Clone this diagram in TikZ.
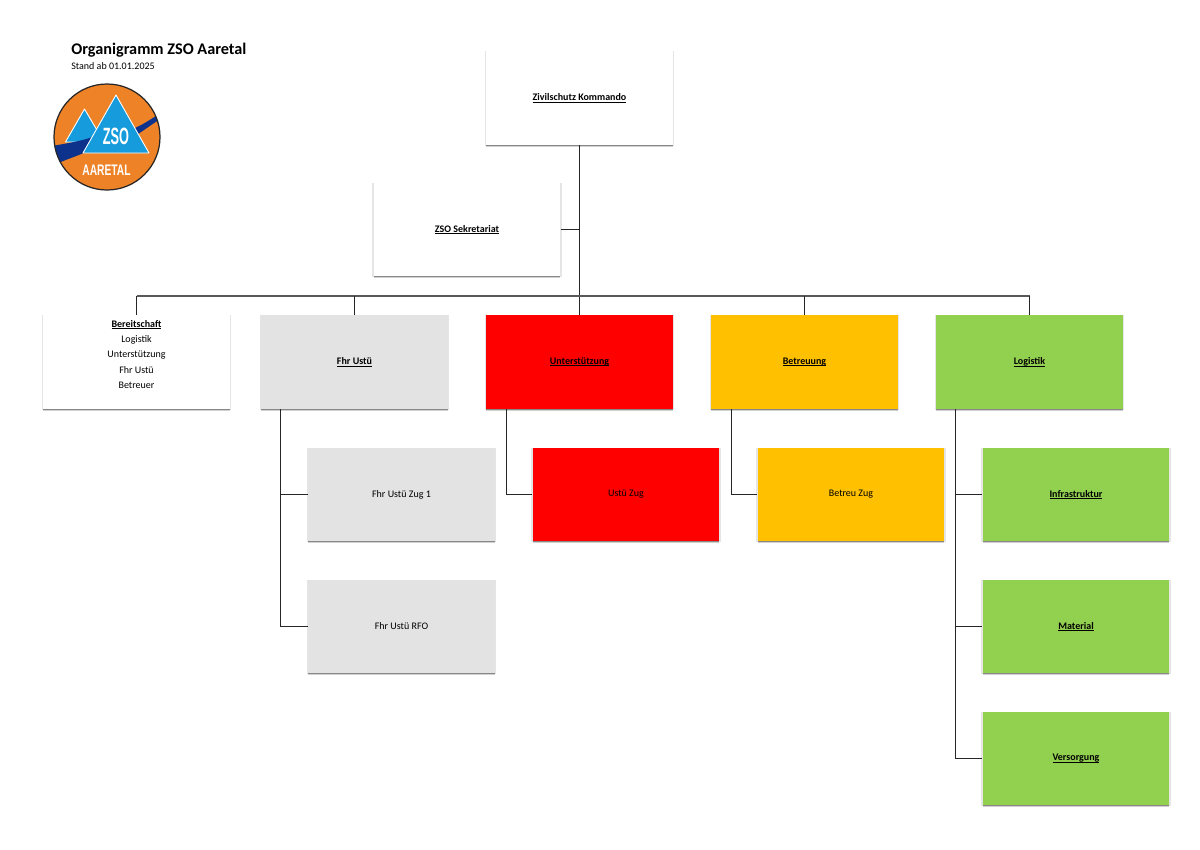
\documentclass[tikz,border=0pt]{standalone}
\usepackage{fontspec}
\setmainfont{Carlito}
\newfontfamily\logofont{Liberation Sans}
\usetikzlibrary{shadows}
\definecolor{ustured}{RGB}{255,0,0}
\definecolor{betreuorange}{RGB}{255,192,0}
\definecolor{logigreen}{RGB}{146,208,80}
\definecolor{fhrgray}{RGB}{227,227,227}
\definecolor{logoorange}{RGB}{238,130,38}
\definecolor{logoblue}{RGB}{22,155,220}
\definecolor{logonavy}{RGB}{12,50,140}
\tikzset{
  orgbox/.style={minimum width=3.74cm, minimum height=1.87cm, inner sep=0pt, align=center,
    font=\fontsize{5.7pt}{8.7pt}\selectfont,
    general shadow={shadow xshift=0pt, shadow yshift=-0.2pt, shadow scale=1.012, opacity=0.10, fill=black},
    general shadow={shadow xshift=0pt, shadow yshift=-1.1pt, opacity=0.18, fill=black},
    general shadow={shadow xshift=0pt, shadow yshift=-0.6pt, opacity=0.28, fill=black}},
  orgline/.style={line width=0.6pt, color=black!85},
  busline/.style={line width=0.9pt, color=black!65},
  logopeak/.style={fill=logoblue, draw=white, line width=0.5pt, line join=round},
}
\newsavebox{\headbox}
\newcommand{\headlabel}[1]{\sbox{\headbox}{\textbf{#1}}\usebox{\headbox}\llap{\rule[-0.8pt]{\wd\headbox}{0.3pt}}}
\begin{document}
\begin{tikzpicture}[x=0.02cm, y=-0.02cm]
    \useasboundingbox (0, 0) rectangle (1200, 849);
    % titel
    \node[anchor=west, inner sep=0pt, font=\fontsize{9.25pt}{11pt}\selectfont\bfseries] (titel) at (71, 50) {Organigramm ZSO Aaretal};
    \node[anchor=west, inner sep=0pt, font=\fontsize{5.7pt}{7pt}\selectfont] (stand) at (71, 66.5) {Stand ab 01.01.2025};
    % logo
    \begin{scope}
      \clip (107, 137) circle (53);
      \fill[logoorange] (107, 137) circle (53);
      \draw[logopeak] (84.5, 109) -- (65.5, 142) -- (104, 142) -- cycle;
      \fill[logonavy] (52, 146) .. controls (75, 142) and (85, 140) .. (95, 136) -- (135, 128) .. controls (142, 125) and (150, 120) .. (162, 112)
        -- (162, 118) .. controls (152, 124) and (146, 129) .. (138, 134) -- (88, 151) .. controls (80, 155) and (70, 158) .. (56, 164) -- cycle;
      \draw[logopeak] (116, 95) -- (83, 153) -- (149, 153) -- cycle;
    \end{scope}
    \draw[line width=0.7pt, color=black!85] (107, 137) circle (53);
    \node[inner sep=0pt, text=white, xscale=0.54, font=\fontsize{13.4pt}{14pt}\selectfont\logofont\bfseries] (zso) at (116, 136.5) {ZSO};
    \node[inner sep=0pt, text=white, xscale=0.67, font=\fontsize{8.7pt}{9pt}\selectfont\logofont\bfseries] (aaretal) at (106.5, 170.5) {AARETAL};
    % oberste ebene
    \node[orgbox, fill=white] (kommando) at (579.5, 98) {\headlabel{Zivilschutz Kommando}};
    \node[orgbox, fill=white] (sekretariat) at (467, 229.5) {\headlabel{ZSO Sekretariat}};
    % bereiche
    \node[orgbox, fill=white] (bereitschaft) at (136.5, 362) {\headlabel{Bereitschaft}\\Logistik\\Unterstützung\\Fhr Ustü\\Betreuer\\};
    \node[orgbox, fill=fhrgray] (fhrustu) at (354.5, 362) {\headlabel{Fhr Ustü}};
    \node[orgbox, fill=ustured] (unterstuetzung) at (579.5, 362) {\headlabel{Unterstützung}};
    \node[orgbox, fill=betreuorange] (betreuung) at (804.5, 362) {\headlabel{Betreuung}};
    \node[orgbox, fill=logigreen] (logistik) at (1029.5, 362) {\headlabel{Logistik}};
    % zuege
    \node[orgbox, fill=fhrgray] (zug1) at (401.5, 494.5) {Fhr Ustü Zug 1};
    \node[orgbox, fill=fhrgray] (rfo) at (401.5, 626.5) {Fhr Ustü RFO};
    \node[orgbox, fill=ustured] (ustuzug) at (626, 494.5) {Ustü Zug};
    \node[orgbox, fill=betreuorange] (betreuzug) at (851, 494.5) {Betreu Zug};
    \node[orgbox, fill=logigreen] (infrastruktur) at (1076, 494.5) {\headlabel{Infrastruktur}};
    \node[orgbox, fill=logigreen] (material) at (1076, 626.5) {\headlabel{Material}};
    \node[orgbox, fill=logigreen] (versorgung) at (1076, 758.5) {\headlabel{Versorgung}};
    % verbindungen
    \coordinate (bus) at (579.5, 296);
    \draw[orgline, line width=0.8pt] (kommando.south) -- (unterstuetzung.north);
    \draw[orgline] (sekretariat.east) -- (sekretariat.east -| kommando.south);
    \draw[busline] (bereitschaft.north |- bus) -- (logistik.north |- bus);
    \draw[orgline] (bereitschaft.north) -- (bereitschaft.north |- bus);
    \draw[orgline] (fhrustu.north) -- (fhrustu.north |- bus);
    \draw[orgline] (betreuung.north) -- (betreuung.north |- bus);
    \draw[orgline] (logistik.north) -- (logistik.north |- bus);
    \coordinate (fhrstem) at (280.5, 409);
    \draw[orgline] (fhrstem) |- (zug1.west);
    \draw[orgline] (fhrstem) |- (rfo.west);
    \coordinate (ustustem) at (506.5, 409);
    \draw[orgline] (ustustem) |- (ustuzug.west);
    \coordinate (betreustem) at (731.5, 409);
    \draw[orgline] (betreustem) |- (betreuzug.west);
    \coordinate (logistem) at (955.5, 409);
    \draw[orgline] (logistem) |- (infrastruktur.west);
    \draw[orgline] (logistem) |- (material.west);
    \draw[orgline] (logistem) |- (versorgung.west);
  \end{tikzpicture}
\end{document}
